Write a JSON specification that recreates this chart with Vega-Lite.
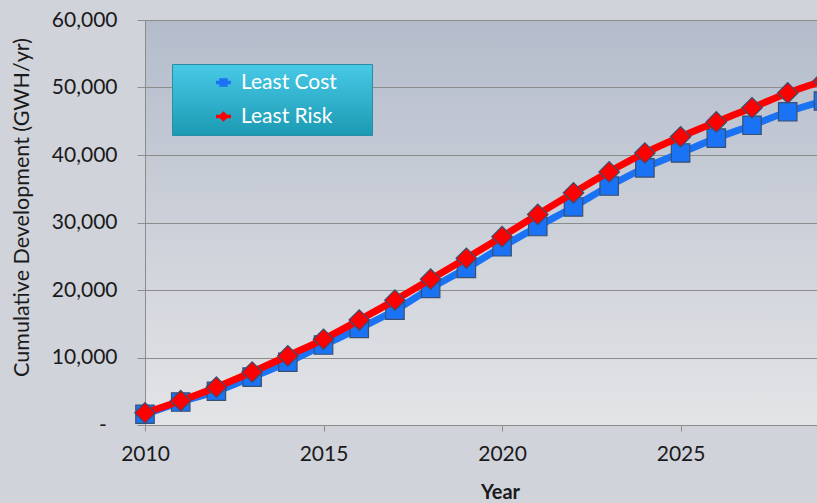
{
  "$schema": "https://vega.github.io/schema/vega-lite/v6.json",
  "width": 672,
  "height": 405,
  "autosize": {"type": "none"},
  "padding": {"left": 145, "top": 20, "right": 0, "bottom": 78},
  "background": "#d0d3da",
  "config": {
    "font": "Lato",
    "view": {
      "stroke": null,
      "fill": {"gradient": "linear", "x1": 0, "y1": 0, "x2": 0, "y2": 1,
        "stops": [{"offset": 0, "color": "#b4bccb"}, {"offset": 1, "color": "#e3e4e6"}]}
    }
  },
  "data": {
    "values": [
      {"year": 2010, "series": "Least Cost", "value": 1600},
      {"year": 2011, "series": "Least Cost", "value": 3400},
      {"year": 2012, "series": "Least Cost", "value": 5000},
      {"year": 2013, "series": "Least Cost", "value": 7100},
      {"year": 2014, "series": "Least Cost", "value": 9300},
      {"year": 2015, "series": "Least Cost", "value": 11850},
      {"year": 2016, "series": "Least Cost", "value": 14300},
      {"year": 2017, "series": "Least Cost", "value": 17000},
      {"year": 2018, "series": "Least Cost", "value": 20250},
      {"year": 2019, "series": "Least Cost", "value": 23200},
      {"year": 2020, "series": "Least Cost", "value": 26400},
      {"year": 2021, "series": "Least Cost", "value": 29400},
      {"year": 2022, "series": "Least Cost", "value": 32300},
      {"year": 2023, "series": "Least Cost", "value": 35400},
      {"year": 2024, "series": "Least Cost", "value": 38100},
      {"year": 2025, "series": "Least Cost", "value": 40300},
      {"year": 2026, "series": "Least Cost", "value": 42500},
      {"year": 2027, "series": "Least Cost", "value": 44400},
      {"year": 2028, "series": "Least Cost", "value": 46400},
      {"year": 2029, "series": "Least Cost", "value": 48000},
      {"year": 2010, "series": "Least Risk", "value": 1800},
      {"year": 2011, "series": "Least Risk", "value": 3600},
      {"year": 2012, "series": "Least Risk", "value": 5600},
      {"year": 2013, "series": "Least Risk", "value": 7850},
      {"year": 2014, "series": "Least Risk", "value": 10250},
      {"year": 2015, "series": "Least Risk", "value": 12700},
      {"year": 2016, "series": "Least Risk", "value": 15550},
      {"year": 2017, "series": "Least Risk", "value": 18500},
      {"year": 2018, "series": "Least Risk", "value": 21600},
      {"year": 2019, "series": "Least Risk", "value": 24700},
      {"year": 2020, "series": "Least Risk", "value": 27900},
      {"year": 2021, "series": "Least Risk", "value": 31200},
      {"year": 2022, "series": "Least Risk", "value": 34400},
      {"year": 2023, "series": "Least Risk", "value": 37500},
      {"year": 2024, "series": "Least Risk", "value": 40300},
      {"year": 2025, "series": "Least Risk", "value": 42700},
      {"year": 2026, "series": "Least Risk", "value": 44900},
      {"year": 2027, "series": "Least Risk", "value": 47000},
      {"year": 2028, "series": "Least Risk", "value": 49200},
      {"year": 2029, "series": "Least Risk", "value": 51000}
    ]
  },
  "encoding": {
    "x": {
      "field": "year", "type": "quantitative",
      "scale": {"domain": [2010, 2028.82], "nice": false, "zero": false},
      "axis": {
        "values": [2010, 2015, 2020, 2025], "format": "d", "grid": false, "labelFlush": false,
        "domain": true, "domainColor": "#8c8c8c", "domainWidth": 1,
        "ticks": true, "tickSize": 6, "tickColor": "#8c8c8c",
        "labelFontSize": 21, "labelColor": "#1a1a1a", "labelPadding": 12,
        "title": "Year", "titleFontSize": 20, "titleFontWeight": "bold", "titleColor": "#1a1a1a",
        "titleX": 355, "titleY": 67, "titleBaseline": "middle", "titleAlign": "center"
      }
    },
    "y": {
      "field": "value", "type": "quantitative",
      "scale": {"domain": [0, 60000], "nice": false},
      "axis": {
        "values": [0, 10000, 20000, 30000, 40000, 50000, 60000],
        "labelExpr": "datum.value === 0 ? '-\u00a0\u00a0\u200b' : format(datum.value, ',')",
        "grid": true, "gridColor": "#8c8c8c", "gridWidth": 1,
        "domain": true, "domainColor": "#8c8c8c",
        "ticks": true, "tickSize": 8, "tickColor": "#8c8c8c",
        "labelFontSize": 21, "labelColor": "#1a1a1a", "labelPadding": 20,
        "title": "Cumulative Development (GWH/yr)", "titleFontSize": 21.5, "titleFontWeight": "normal",
        "titleColor": "#1a1a1a", "titleX": -123, "titleY": 187, "titleAngle": -90,
        "titleAlign": "center", "titleBaseline": "middle"
      }
    },
    "color": {
      "field": "series", "type": "nominal",
      "scale": {"domain": ["Least Cost", "Least Risk"], "range": ["#1a72f5", "#ff0000"]},
      "legend": {
        "title": null, "orient": "none", "legendX": 27, "legendY": 44,
        "padding": 8, "rowPadding": 12, "symbolSize": 289, "symbolOffset": 33,
        "labelOffset": 7, "labelFontSize": 21, "labelColor": "#ffffff",
        "labelExpr": "datum.label + '\u00a0\u00a0\u00a0\u00a0\u00a0\u200b'",
        "strokeColor": "#2a8ca5",
        "encode": {
          "legend": {"update": {"fill": {"value": {"gradient": "linear", "x1": 0, "y1": 0, "x2": 0, "y2": 1,
            "stops": [{"offset": 0, "color": "#48c9e6"}, {"offset": 1, "color": "#1c9ab3"}]}}}},
          "symbols": {"update": {
            "shape": {"signal": "datum.value === 'Least Cost' ? 'M-0.88,-0.2L0.88,-0.2L0.88,0.2L-0.88,0.2Z M-0.5,-0.5L0.5,-0.5L0.5,0.5L-0.5,0.5Z' : 'M-0.88,-0.2L0.88,-0.2L0.88,0.2L-0.88,0.2Z M0,-0.62L0.62,0L0,0.62L-0.62,0Z'"},
            "strokeWidth": {"value": 0}
          }}
        }
      }
    }
  },
  "layer": [
    {
      "transform": [{"filter": "datum.series === 'Least Cost'"}],
      "mark": {"type": "line", "strokeWidth": 7, "interpolate": "monotone", "clip": true}
    },
    {
      "transform": [{"filter": "datum.series === 'Least Cost'"}],
      "mark": {"type": "point", "shape": "square", "filled": true, "size": 340, "stroke": "#3b4f70", "strokeWidth": 1.2, "opacity": 1}
    },
    {
      "transform": [{"filter": "datum.series === 'Least Risk'"}],
      "mark": {"type": "line", "strokeWidth": 7, "interpolate": "monotone", "clip": true}
    },
    {
      "transform": [{"filter": "datum.series === 'Least Risk'"}],
      "mark": {"type": "point", "shape": "diamond", "filled": true, "size": 420, "stroke": "#3b4f70", "strokeWidth": 1.2, "opacity": 1}
    }
  ]
}
